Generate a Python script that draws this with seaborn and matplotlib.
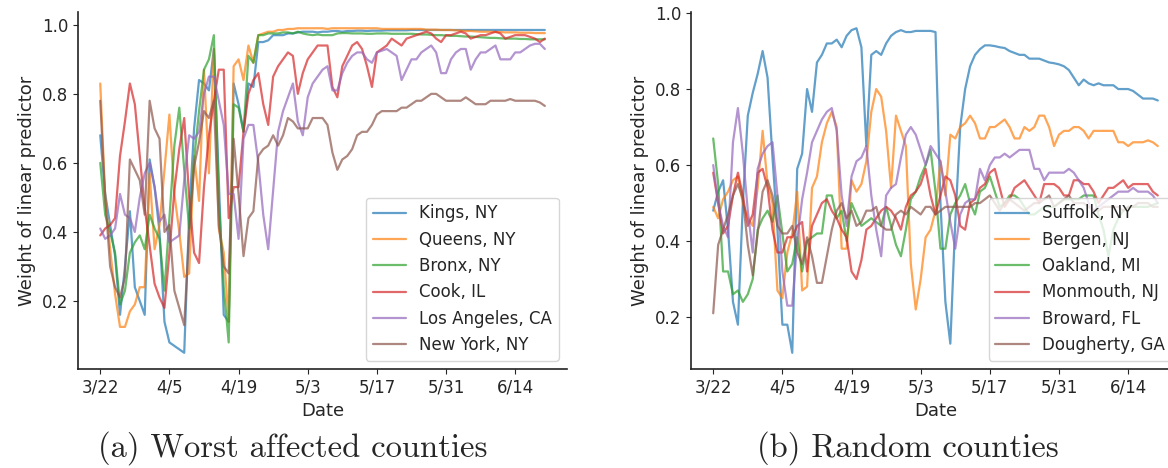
import numpy as np
import pandas as pd
import matplotlib
matplotlib.use("Agg")
import matplotlib.pyplot as plt
import seaborn as sns

start_date = "2020-03-22"
n_days = 91
tick_labels = ["3/22", "4/5", "4/19", "5/3", "5/17", "5/31", "6/14"]

worst_counties = ["Kings, NY", "Queens, NY", "Bronx, NY", "Cook, IL", "Los Angeles, CA", "New York, NY"]
random_counties = ["Suffolk, NY", "Bergen, NJ", "Oakland, MI", "Monmouth, NJ", "Broward, FL", "Dougherty, GA"]

kings = [0.68, 0.51, 0.42, 0.33, 0.16, 0.30, 0.46, 0.24, 0.20, 0.16,
         0.61, 0.53, 0.40, 0.14, 0.08, 0.07, 0.06, 0.05, 0.45, 0.70,
         0.84, 0.83, 0.81, 0.93, 0.55, 0.16, 0.14, 0.83, 0.77, 0.69,
         0.83, 0.82, 0.95, 0.95, 0.955, 0.97, 0.97, 0.97, 0.975, 0.975,
         0.978, 0.98, 0.98, 0.98, 0.978, 0.98, 0.98, 0.982, 0.982, 0.98,
         0.982, 0.982, 0.983, 0.983, 0.982, 0.983, 0.983, 0.983, 0.984, 0.984,
         0.984, 0.984, 0.984, 0.985, 0.985, 0.985, 0.985, 0.985, 0.985, 0.985,
         0.985, 0.985, 0.985, 0.985, 0.985, 0.985, 0.985, 0.985, 0.985, 0.985,
         0.985, 0.985, 0.985, 0.985, 0.985, 0.985, 0.985, 0.985, 0.985, 0.985,
         0.985]
queens = [0.83, 0.50, 0.35, 0.22, 0.125, 0.125, 0.17, 0.19, 0.24, 0.24,
          0.57, 0.35, 0.42, 0.58, 0.74, 0.51, 0.40, 0.27, 0.28, 0.62,
          0.49, 0.87, 0.57, 0.93, 0.41, 0.34, 0.14, 0.88, 0.90, 0.84,
          0.94, 0.89, 0.97, 0.975, 0.98, 0.98, 0.985, 0.985, 0.988, 0.988,
          0.99, 0.99, 0.99, 0.99, 0.99, 0.99, 0.988, 0.99, 0.99, 0.99,
          0.99, 0.99, 0.99, 0.99, 0.99, 0.99, 0.99, 0.988, 0.988, 0.988,
          0.988, 0.988, 0.988, 0.988, 0.988, 0.988, 0.986, 0.986, 0.986, 0.985,
          0.985, 0.985, 0.984, 0.983, 0.982, 0.982, 0.981, 0.98, 0.98, 0.98,
          0.979, 0.979, 0.978, 0.978, 0.978, 0.977, 0.977, 0.977, 0.976, 0.976,
          0.976]
bronx = [0.60, 0.45, 0.40, 0.34, 0.19, 0.23, 0.34, 0.37, 0.39, 0.35,
         0.45, 0.41, 0.38, 0.23, 0.44, 0.65, 0.76, 0.58, 0.41, 0.61,
         0.75, 0.87, 0.90, 0.97, 0.49, 0.24, 0.08, 0.77, 0.76, 0.69,
         0.91, 0.89, 0.97, 0.97, 0.975, 0.975, 0.975, 0.978, 0.978, 0.975,
         0.98, 0.975, 0.972, 0.97, 0.972, 0.97, 0.97, 0.97, 0.975, 0.976,
         0.976, 0.975, 0.975, 0.975, 0.974, 0.974, 0.975, 0.975, 0.975, 0.974,
         0.974, 0.974, 0.974, 0.974, 0.973, 0.972, 0.972, 0.971, 0.97, 0.97,
         0.969, 0.968, 0.968, 0.967, 0.966, 0.966, 0.965, 0.964, 0.963, 0.962,
         0.962, 0.961, 0.96, 0.96, 0.96, 0.959, 0.959, 0.958, 0.958, 0.958,
         0.958]
cook = [0.39, 0.41, 0.42, 0.44, 0.62, 0.72, 0.83, 0.77, 0.62, 0.47,
        0.36, 0.25, 0.21, 0.18, 0.34, 0.52, 0.64, 0.73, 0.50, 0.34,
        0.31, 0.53, 0.68, 0.78, 0.87, 0.87, 0.44, 0.53, 0.53, 0.69,
        0.80, 0.84, 0.86, 0.77, 0.71, 0.85, 0.88, 0.90, 0.92, 0.91,
        0.80, 0.86, 0.90, 0.92, 0.94, 0.94, 0.94, 0.82, 0.79, 0.88,
        0.91, 0.94, 0.95, 0.93, 0.88, 0.82, 0.92, 0.93, 0.94, 0.96,
        0.95, 0.94, 0.96, 0.965, 0.97, 0.975, 0.98, 0.975, 0.96, 0.95,
        0.97, 0.97, 0.975, 0.98, 0.975, 0.96, 0.965, 0.97, 0.97, 0.975,
        0.98, 0.975, 0.96, 0.965, 0.97, 0.97, 0.97, 0.965, 0.96, 0.95,
        0.96]
los_angeles = [0.41, 0.38, 0.39, 0.41, 0.51, 0.45, 0.44, 0.40, 0.50, 0.57,
               0.60, 0.53, 0.43, 0.45, 0.37, 0.38, 0.39, 0.55, 0.68, 0.67,
               0.69, 0.80, 0.85, 0.85, 0.78, 0.71, 0.51, 0.51, 0.38, 0.67,
               0.71, 0.71, 0.60, 0.45, 0.35, 0.52, 0.69, 0.75, 0.79, 0.83,
               0.72, 0.68, 0.79, 0.83, 0.85, 0.87, 0.88, 0.81, 0.81, 0.86,
               0.89, 0.91, 0.92, 0.92, 0.90, 0.89, 0.92, 0.925, 0.93, 0.92,
               0.91, 0.84, 0.87, 0.90, 0.90, 0.92, 0.93, 0.94, 0.92, 0.86,
               0.86, 0.90, 0.92, 0.93, 0.93, 0.87, 0.90, 0.92, 0.92, 0.93,
               0.94, 0.90, 0.90, 0.90, 0.92, 0.92, 0.93, 0.94, 0.945, 0.945,
               0.93]
new_york = [0.78, 0.50, 0.30, 0.24, 0.21, 0.27, 0.61, 0.58, 0.55, 0.45,
            0.78, 0.70, 0.67, 0.40, 0.42, 0.23, 0.18, 0.13, 0.40, 0.59,
            0.66, 0.75, 0.73, 0.78, 0.42, 0.30, 0.28, 0.67, 0.51, 0.33,
            0.44, 0.46, 0.62, 0.64, 0.65, 0.68, 0.65, 0.68, 0.73, 0.72,
            0.70, 0.70, 0.70, 0.73, 0.73, 0.73, 0.71, 0.63, 0.58, 0.61,
            0.62, 0.64, 0.68, 0.69, 0.69, 0.71, 0.74, 0.75, 0.75, 0.75,
            0.75, 0.76, 0.76, 0.77, 0.78, 0.78, 0.79, 0.80, 0.80, 0.79,
            0.78, 0.78, 0.78, 0.78, 0.79, 0.78, 0.77, 0.77, 0.77, 0.78,
            0.78, 0.78, 0.78, 0.785, 0.78, 0.78, 0.78, 0.78, 0.78, 0.775,
            0.765]

suffolk = [0.48, 0.53, 0.56, 0.43, 0.24, 0.18, 0.50, 0.73, 0.79, 0.84,
           0.90, 0.83, 0.62, 0.43, 0.18, 0.18, 0.106, 0.59, 0.63, 0.80,
           0.74, 0.87, 0.89, 0.92, 0.92, 0.93, 0.91, 0.94, 0.955, 0.96,
           0.91, 0.65, 0.89, 0.90, 0.89, 0.92, 0.94, 0.95, 0.955, 0.95,
           0.95, 0.953, 0.953, 0.953, 0.953, 0.95, 0.50, 0.24, 0.13, 0.45,
           0.70, 0.80, 0.86, 0.89, 0.905, 0.915, 0.915, 0.913, 0.91, 0.908,
           0.90, 0.895, 0.89, 0.89, 0.88, 0.88, 0.88, 0.875, 0.87, 0.868,
           0.865, 0.86, 0.85, 0.83, 0.81, 0.825, 0.815, 0.81, 0.815, 0.81,
           0.81, 0.81, 0.80, 0.80, 0.80, 0.795, 0.785, 0.775, 0.775, 0.775,
           0.77]
bergen = [0.49, 0.46, 0.51, 0.53, 0.56, 0.57, 0.50, 0.46, 0.44, 0.54,
          0.69, 0.55, 0.50, 0.27, 0.25, 0.37, 0.42, 0.53, 0.27, 0.28,
          0.54, 0.57, 0.66, 0.71, 0.74, 0.70, 0.38, 0.38, 0.56, 0.53,
          0.55, 0.61, 0.74, 0.80, 0.78, 0.69, 0.54, 0.73, 0.69, 0.65,
          0.34, 0.22, 0.30, 0.41, 0.43, 0.48, 0.61, 0.52, 0.68, 0.67,
          0.70, 0.71, 0.73, 0.71, 0.67, 0.67, 0.70, 0.70, 0.71, 0.72,
          0.70, 0.67, 0.67, 0.70, 0.69, 0.70, 0.73, 0.73, 0.70, 0.65,
          0.68, 0.69, 0.69, 0.70, 0.70, 0.69, 0.67, 0.69, 0.69, 0.69,
          0.69, 0.69, 0.66, 0.66, 0.65, 0.66, 0.66, 0.66, 0.665, 0.66,
          0.65]
oakland = [0.67, 0.55, 0.32, 0.32, 0.26, 0.27, 0.24, 0.26, 0.30, 0.43,
           0.46, 0.48, 0.45, 0.52, 0.42, 0.32, 0.34, 0.41, 0.32, 0.40,
           0.41, 0.42, 0.42, 0.52, 0.52, 0.46, 0.48, 0.40, 0.50, 0.47,
           0.44, 0.45, 0.46, 0.45, 0.44, 0.49, 0.44, 0.39, 0.36, 0.43,
           0.51, 0.53, 0.57, 0.60, 0.64, 0.53, 0.38, 0.38, 0.47, 0.50,
           0.52, 0.55, 0.50, 0.47, 0.53, 0.54, 0.57, 0.53, 0.49, 0.50,
           0.52, 0.52, 0.51, 0.49, 0.47, 0.47, 0.48, 0.49, 0.49, 0.49,
           0.50, 0.51, 0.51, 0.51, 0.51, 0.52, 0.52, 0.52, 0.47, 0.43,
           0.36, 0.43, 0.46, 0.48, 0.49, 0.49, 0.49, 0.49, 0.49, 0.495,
           0.50]
monmouth = [0.58, 0.50, 0.42, 0.44, 0.52, 0.58, 0.52, 0.44, 0.47, 0.58,
            0.59, 0.54, 0.43, 0.37, 0.37, 0.41, 0.41, 0.44, 0.45, 0.32,
            0.44, 0.47, 0.50, 0.51, 0.48, 0.46, 0.43, 0.41, 0.32, 0.30,
            0.35, 0.43, 0.44, 0.46, 0.48, 0.49, 0.48, 0.46, 0.43, 0.49,
            0.52, 0.53, 0.55, 0.59, 0.52, 0.47, 0.52, 0.57, 0.56, 0.52,
            0.44, 0.43, 0.50, 0.51, 0.54, 0.55, 0.58, 0.59, 0.54, 0.49,
            0.51, 0.54, 0.55, 0.56, 0.54, 0.52, 0.50, 0.55, 0.55, 0.55,
            0.54, 0.52, 0.52, 0.56, 0.56, 0.55, 0.55, 0.53, 0.50, 0.52,
            0.54, 0.54, 0.55, 0.56, 0.54, 0.55, 0.55, 0.55, 0.55, 0.53,
            0.52]
broward = [0.60, 0.50, 0.44, 0.41, 0.66, 0.75, 0.63, 0.48, 0.37, 0.59,
           0.63, 0.65, 0.66, 0.52, 0.32, 0.23, 0.23, 0.40, 0.51, 0.58,
           0.66, 0.69, 0.72, 0.74, 0.75, 0.69, 0.52, 0.44, 0.57, 0.61,
           0.62, 0.65, 0.52, 0.43, 0.36, 0.52, 0.54, 0.55, 0.62, 0.68,
           0.70, 0.68, 0.64, 0.60, 0.65, 0.63, 0.61, 0.53, 0.45, 0.38,
           0.47, 0.50, 0.51, 0.51, 0.59, 0.56, 0.60, 0.62, 0.62, 0.63,
           0.62, 0.63, 0.64, 0.64, 0.64, 0.59, 0.59, 0.56, 0.58, 0.58,
           0.58, 0.58, 0.59, 0.58, 0.56, 0.54, 0.50, 0.48, 0.49, 0.50,
           0.51, 0.52, 0.53, 0.53, 0.53, 0.54, 0.53, 0.53, 0.53, 0.52,
           0.50]
dougherty = [0.21, 0.39, 0.43, 0.47, 0.52, 0.55, 0.51, 0.39, 0.31, 0.42,
             0.53, 0.56, 0.52, 0.44, 0.42, 0.42, 0.44, 0.37, 0.34, 0.41,
             0.36, 0.29, 0.29, 0.36, 0.43, 0.48, 0.50, 0.46, 0.48, 0.44,
             0.45, 0.48, 0.48, 0.49, 0.44, 0.43, 0.43, 0.47, 0.48, 0.47,
             0.49, 0.48, 0.47, 0.49, 0.49, 0.47, 0.48, 0.49, 0.49, 0.49,
             0.49, 0.49, 0.49, 0.50, 0.50, 0.51, 0.52, 0.50, 0.48, 0.50,
             0.51, 0.50, 0.49, 0.48, 0.49, 0.50, 0.50, 0.51, 0.52, 0.49,
             0.50, 0.51, 0.52, 0.50, 0.50, 0.50, 0.49, 0.48, 0.48, 0.49,
             0.49, 0.49, 0.49, 0.48, 0.49, 0.49, 0.50, 0.50, 0.50, 0.49,
             0.49]

worst_values = [kings, queens, bronx, cook, los_angeles, new_york]
random_values = [suffolk, bergen, oakland, monmouth, broward, dougherty]

dates = pd.date_range(start_date, periods=n_days, freq="D")


def long_frame(names, values):
    frames = []
    for name, vals in zip(names, values):
        frames.append(pd.DataFrame({"Date": dates, "weight": vals, "county": name}))
    return pd.concat(frames, ignore_index=True)


df_a = long_frame(worst_counties, worst_values)
df_b = long_frame(random_counties, random_values)

sns.set_style("ticks")
plt.rcParams["font.family"] = ["DejaVu Sans"]
plt.rcParams["font.size"] = 12

fig = plt.figure(figsize=(11.68, 4.68), dpi=100)
ax_a = fig.add_axes([0.0668, 0.2115, 0.4187, 0.7628])
ax_b = fig.add_axes([0.5916, 0.2115, 0.4187, 0.7628])

palette = sns.color_palette("tab10", 6)

for ax, df, names in [(ax_a, df_a, worst_counties), (ax_b, df_b, random_counties)]:
    sns.lineplot(data=df, x="Date", y="weight", hue="county", hue_order=names,
                 palette=palette, alpha=0.7, linewidth=1.6, ax=ax)
    ax.set_xticks(dates[::14])
    ax.set_xticklabels(tick_labels, fontsize=12)
    ax.tick_params(axis="y", labelsize=12)
    ax.set_xlabel("Date", fontsize=13)
    ax.set_ylabel("Weight of linear predictor", fontsize=13)
    ax.set_yticks([0.2, 0.4, 0.6, 0.8, 1.0])
    ax.set_yticklabels(["0.2", "0.4", "0.6", "0.8", "1.0"])
    leg = ax.legend(loc="lower right", fontsize=12, title=None)
    for line in leg.get_lines():
        line.set_linewidth(1.6)
    sns.despine(ax=ax)
    for sp in ["left", "bottom"]:
        ax.spines[sp].set_color("#222222")
        ax.spines[sp].set_linewidth(1.2)

fig.text(0.251, 0.024, "(a) Worst affected counties", family="cmr10", fontsize=23.5, ha="center", va="baseline")
fig.text(0.777, 0.024, "(b) Random counties", family="cmr10", fontsize=23.5, ha="center", va="baseline")

fig.savefig("out.png", dpi=100)
